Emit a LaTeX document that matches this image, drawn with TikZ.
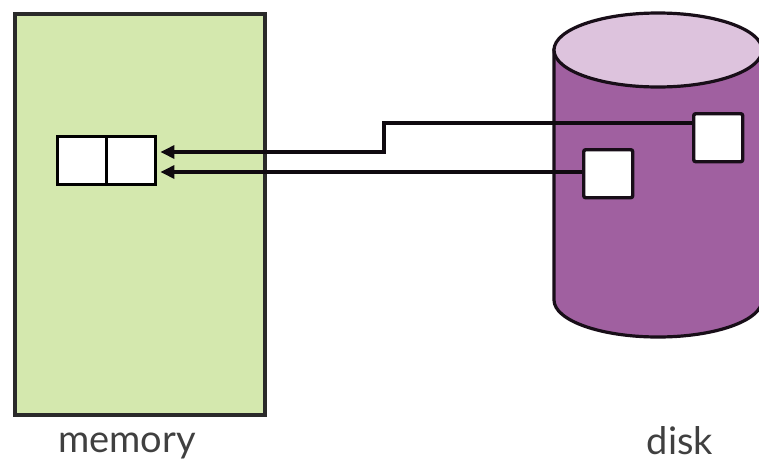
\documentclass[tikz,border=0pt]{standalone}
\usepackage{fontspec}
\setmainfont{Lato}
\usetikzlibrary{arrows.meta}
\definecolor{memgreen}{HTML}{D4E8AE}
\definecolor{diskpurple}{HTML}{A060A0}
\definecolor{disktop}{HTML}{DDC3DD}
\definecolor{edge}{HTML}{2A2A2A}
\tikzset{
  cell/.style={draw=black, line width=3.4pt, fill=white, minimum width=49pt, minimum height=48pt, inner sep=0pt},
  blk/.style={draw=black!85!diskpurple, line width=3.4pt, fill=white, minimum width=49pt, minimum height=48pt, inner sep=0pt, rounded corners=2pt},
  conn/.style={line width=3.2pt, draw=black!90!diskpurple},
  arr/.style={conn, -{Triangle[length=14pt,width=13pt]}},
  lbl/.style={font=\fontsize{38}{40}\selectfont, text=black!75, anchor=base, inner sep=0pt}
}
\begin{document}
\begin{tikzpicture}[x=1pt,y=-1pt]
\useasboundingbox (0,0) rectangle (759,461);
% memory
\node[draw=edge, line width=3.6pt, fill=memgreen, minimum width=250pt, minimum height=401pt, inner sep=0pt, anchor=north west] (mem) at (13,12) {};
\node[cell, anchor=north west] (c1) at (56,135) {};
\node[cell, anchor=north west] (c2) at (105,135) {};
% disk
\fill[diskpurple, draw=black!85!diskpurple, line width=3.2pt] (554,50) -- (554,300) arc[start angle=180, end angle=0, x radius=104, y radius=37] -- (762,50) -- cycle;
\draw[fill=disktop, draw=black!85!diskpurple, line width=3.2pt] (658,50) ellipse [x radius=104, y radius=37];
\node[blk, anchor=north west] (b1) at (692,112) {};
\node[blk, anchor=north west] (b2) at (582,148) {};
\coordinate (k1) at (384,123);
\coordinate (k2) at (384,152);
\draw[arr] (b1.west |- k1) -- (k1) -- (k2) -- ([xshift=3pt]c2.east |- k2);
\draw[arr] (b2.west |- 0,172) -- ([xshift=3pt]c2.east |- 0,172);
\node[lbl] (ml) at (127,452) {memory};
\node[lbl] (dl) at (680,454) {disk};
\end{tikzpicture}
\end{document}
